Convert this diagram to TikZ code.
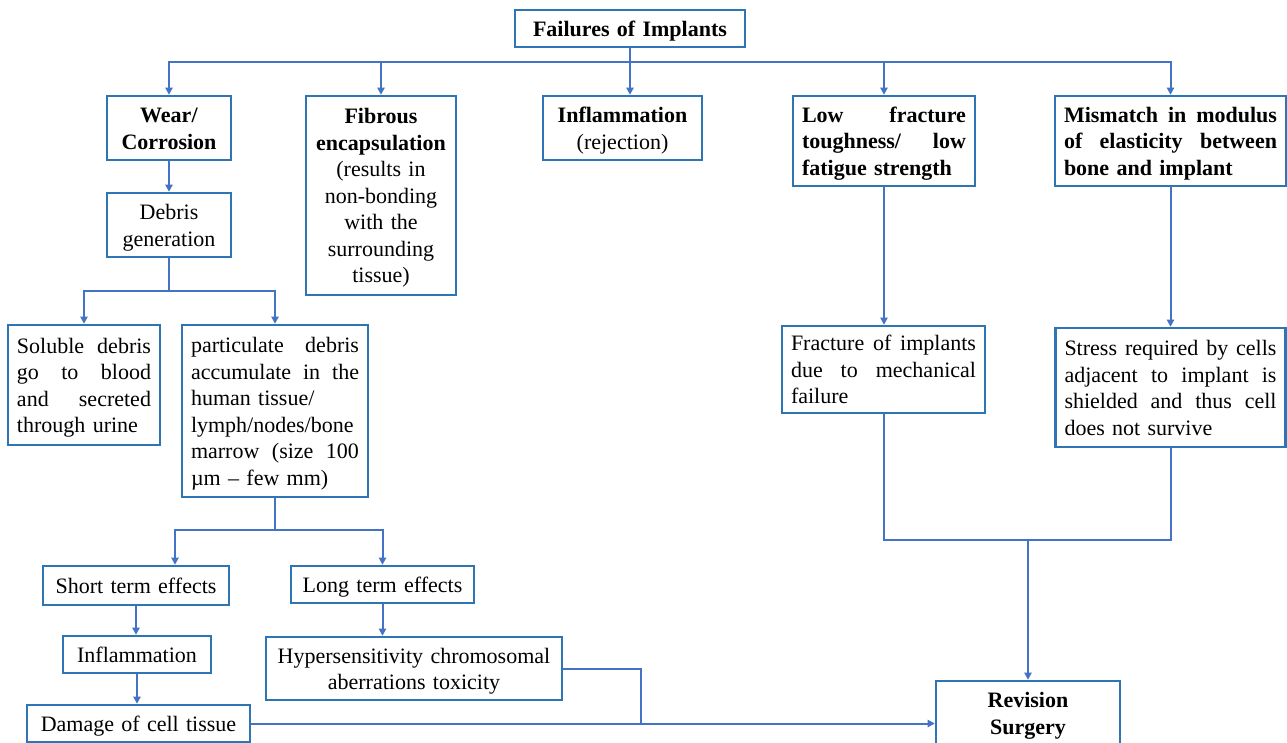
\documentclass[tikz,border=0pt]{standalone}
\usepackage{fontspec}
\setmainfont{Liberation Serif}
\usetikzlibrary{arrows.meta,calc}
\definecolor{boxblue}{RGB}{46,117,182}
\definecolor{linkblue}{RGB}{68,114,196}
\tikzset{
  bx/.style={draw=boxblue, line width=1.2pt, fill=white, inner xsep=4.5pt, inner ysep=1pt,
    font=\fontsize{11}{13.25}\selectfont, align=center,
    execute at begin node={\rule{0pt}{10.4pt}},
    execute at end node={\rule[-2.4pt]{0pt}{2.4pt}}},
  jbx/.style={bx, align=left},
  ln/.style={draw=linkblue, line width=1pt},
  arr/.style={ln, -{Triangle[length=3.6pt,width=3.6pt]}}
}
\begin{document}
\begin{tikzpicture}[x=0.5pt,y=-0.5pt]
\useasboundingbox (0,0) rectangle (1287,743);
% nodes
\node[bx, text width=106pt, minimum height=18.5pt] (top) at (630,28.5) {\textbf{Failures of Implants}};
\node[bx, text width=53pt, minimum height=32pt] (wear) at (169,128) {\textbf{Wear/}\\\textbf{Corrosion}};
\node[bx, text width=66pt, minimum height=99.5pt] (fib) at (381,195.5) {\textbf{Fibrous}\\\textbf{encapsulation}\\(results in\\non-bonding\\with the\\surrounding\\tissue)};
\node[bx, text width=70.5pt, minimum height=32pt] (infl) at (622.5,128) {\textbf{Inflammation}\\(rejection)};
\node[jbx, text width=82pt, minimum height=45pt] (low) at (884,141) {\textbf{Low\hfill fracture}\\\textbf{toughness/\hfill low}\\\textbf{fatigue strength}};
\node[jbx, text width=106.5pt, minimum height=45pt] (mis) at (1170.5,141) {\textbf{Mismatch\hfill in\hfill modulus}\\\textbf{of\hfill elasticity\hfill between}\\\textbf{bone and implant}};
\node[bx, text width=53pt, minimum height=32pt] (deb) at (169,225) {Debris\\generation};
\node[jbx, text width=67pt, minimum height=60pt] (sol) at (84,385) {Soluble\hfill debris\\go\hfill to\hfill blood\\and\hfill secreted\\through urine};
\node[jbx, text width=84pt, minimum height=86pt] (part) at (275,411) {particulate\hfill debris\\accumulate\hfill in\hfill the\\human tissue/\\lymph/nodes/bone\\marrow\hfill (size\hfill 100\\µm – few mm)};
\node[bx, text width=84pt, minimum height=19.5pt] (short) at (136,585.5) {Short term effects};
\node[bx, text width=82.5pt, minimum height=18.5pt] (long) at (382.5,584.5) {Long term effects};
\node[bx, text width=65pt, minimum height=18.5pt] (infltwo) at (137,654.5) {Inflammation};
\node[bx, text width=102.5pt, minimum height=18.5pt] (dam) at (138.5,723.5) {Damage of cell tissue};
\node[bx, text width=140pt, inner xsep=4pt, minimum height=31.5pt] (hyp) at (414,668.5) {Hypersensitivity chromosomal\\aberrations toxicity};
\node[jbx, text width=92.5pt, minimum height=43.5pt] (frac) at (883.5,369.5) {Fracture\hfill of\hfill implants\\due\hfill to\hfill mechanical\\failure};
\node[jbx, text width=106pt, minimum height=59.5pt] (stress) at (1170.5,387.5) {Stress\hfill required\hfill by\hfill cells\\adjacent\hfill to\hfill implant\hfill is\\shielded\hfill and\hfill thus\hfill cell\\does not survive};
\node[bx, text width=83pt, minimum height=32pt] (rev) at (1028,713) {\textbf{Revision}\\\textbf{Surgery}};
% connectors
\coordinate (bus) at (630,62);
\draw[ln] (top.south) -- (bus);
\draw[arr] (bus) -| (wear.north);
\draw[arr] (bus) -| (fib.north);
\draw[arr] (bus) -- (bus |- infl.north);
\draw[arr] (bus) -| (low.north);
\draw[arr] (bus) -| (mis.north);
\draw[arr] (wear.south) -- (deb.north);
\coordinate (j1) at (169,291);
\draw[ln] (deb.south) -- (j1);
\draw[arr] (j1) -| (sol.north);
\draw[arr] (j1) -| (part.north);
\coordinate (j2) at (275,530);
\draw[ln] (part.south) -- (j2);
\draw[arr] (j2) -| ($(short.north)+(39,0)$);
\draw[arr] (j2) -| (long.north);
\draw[arr] (short.south) -- (short.south |- infltwo.north);
\draw[arr] (infltwo.south) -- (infltwo.south |- dam.north);
\draw[arr] (long.south) -- (long.south |- hyp.north);
\coordinate (j3) at (641,723.5);
\draw[ln] (hyp.east) -| (j3);
\draw[arr] (dam.east) -- (dam.east -| rev.west);
\draw[arr] (low.south) -- (low.south |- frac.north);
\draw[arr] (mis.south) -- (mis.south |- stress.north);
\coordinate (j4) at (1028,540);
\draw[ln] (frac.south) |- (j4);
\draw[ln] (stress.south) |- (j4);
\draw[arr] (j4) -- (rev.north);
\end{tikzpicture}
\end{document}
